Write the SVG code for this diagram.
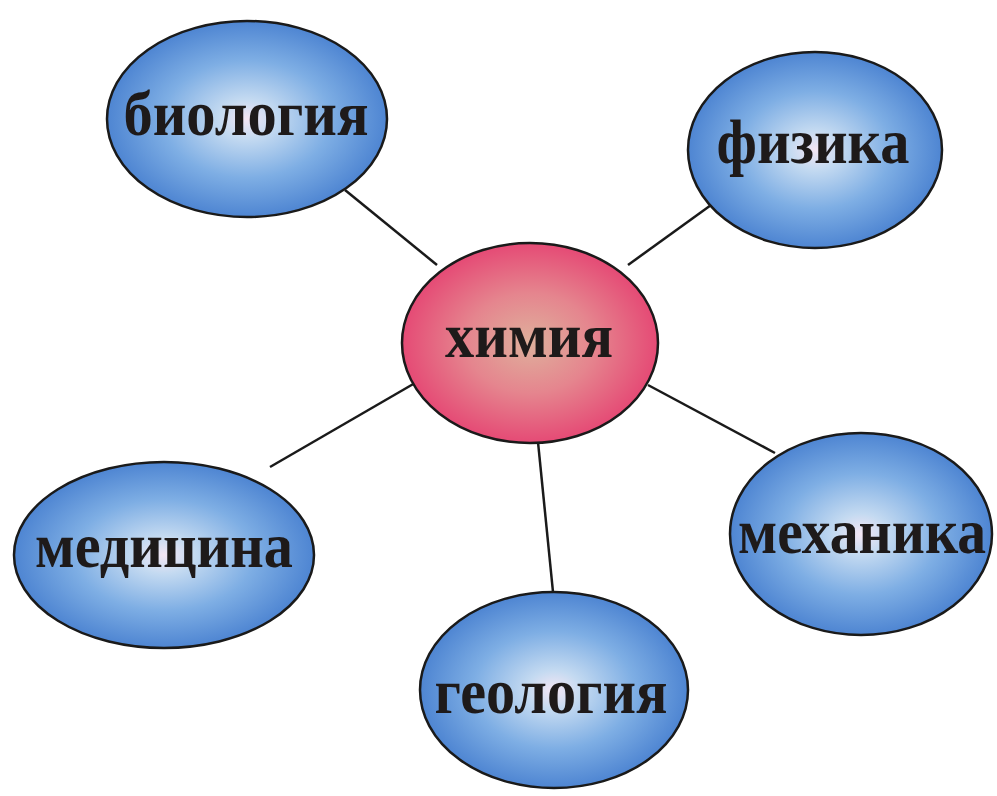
<svg xmlns="http://www.w3.org/2000/svg" width="997" height="796" viewBox="0 0 997 796">
<defs>
<radialGradient id="blue" cx="50%" cy="50%" r="50%">
<stop offset="0" stop-color="#f4e6f4"/>
<stop offset="0.2" stop-color="#c4daf1"/>
<stop offset="0.6" stop-color="#7eaee4"/>
<stop offset="1" stop-color="#4e85d2"/>
</radialGradient>
<radialGradient id="red" cx="50%" cy="50%" r="50%">
<stop offset="0" stop-color="#dfb09c"/>
<stop offset="0.5" stop-color="#e5858e"/>
<stop offset="1" stop-color="#e54a75"/>
</radialGradient>
</defs>
<style>
.blue{fill:url(#blue);stroke:#1a1a1a;stroke-width:2.5}
.red{fill:url(#red);stroke:#1a1a1a;stroke-width:2.5}
.lbl{font-family:"Liberation Serif","Times New Roman",serif;font-weight:bold;font-size:64px;fill:#1e1a1a;text-anchor:middle}
.conn line{stroke:#1a1a1a;stroke-width:2.5}
</style>
<rect width="997" height="796" fill="#ffffff"/>
<g id="connectors" class="conn">
<line x1="345" y1="190" x2="437" y2="265"/>
<line x1="718" y1="200" x2="628" y2="265"/>
<line x1="415" y1="383" x2="270" y2="467"/>
<line x1="648" y1="385" x2="775" y2="453"/>
<line x1="538" y1="442" x2="553" y2="592"/>
</g>
<g id="biologiya">
<ellipse class="blue" cx="247" cy="119" rx="140" ry="98"/>
<text class="lbl" x="246" y="135" textLength="245" lengthAdjust="spacingAndGlyphs">биология</text>
</g>
<g id="fizika">
<ellipse class="blue" cx="815" cy="150" rx="127" ry="98"/>
<text class="lbl" x="813" y="163" textLength="193" lengthAdjust="spacingAndGlyphs">физика</text>
</g>
<g id="khimiya">
<ellipse class="red" cx="530" cy="343" rx="128" ry="100"/>
<text class="lbl" x="529" y="357" textLength="168" lengthAdjust="spacingAndGlyphs">химия</text>
</g>
<g id="meditsina">
<ellipse class="blue" cx="164" cy="555" rx="150" ry="93"/>
<text class="lbl" x="164" y="567" textLength="258" lengthAdjust="spacingAndGlyphs">медицина</text>
</g>
<g id="mekhanika">
<ellipse class="blue" cx="861" cy="534" rx="131" ry="101"/>
<text class="lbl" x="862" y="553" textLength="248" lengthAdjust="spacingAndGlyphs">механика</text>
</g>
<g id="geologiya">
<ellipse class="blue" cx="554" cy="690" rx="134" ry="98"/>
<text class="lbl" x="551" y="713" textLength="233" lengthAdjust="spacingAndGlyphs">геология</text>
</g>
</svg>
